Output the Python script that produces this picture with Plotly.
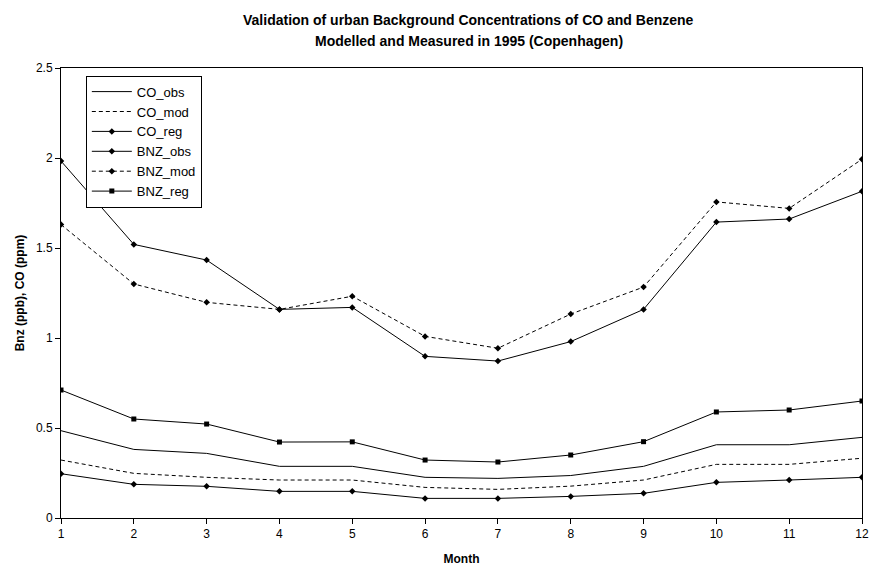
import plotly.graph_objects as go

# monthly values
months = list(range(1, 13))

co_obs = [0.485, 0.381, 0.359, 0.287, 0.287, 0.226, 0.220, 0.236, 0.287, 0.407, 0.407, 0.448]
co_mod = [0.322, 0.248, 0.226, 0.211, 0.211, 0.170, 0.159, 0.177, 0.211, 0.298, 0.298, 0.332]
co_reg = [0.246, 0.187, 0.176, 0.148, 0.148, 0.109, 0.109, 0.120, 0.137, 0.198, 0.211, 0.226]
bnz_obs = [1.983, 1.520, 1.433, 1.159, 1.170, 0.898, 0.872, 0.980, 1.159, 1.644, 1.661, 1.815]
bnz_mod = [1.630, 1.300, 1.198, 1.159, 1.232, 1.009, 0.943, 1.133, 1.283, 1.756, 1.720, 1.993]
bnz_reg = [0.711, 0.550, 0.522, 0.422, 0.423, 0.322, 0.311, 0.350, 0.424, 0.589, 0.600, 0.650]

title_lines = [
    "Validation of urban Background Concentrations of CO and Benzene",
    "Modelled and Measured in 1995 (Copenhagen)",
]

FONT = "Arial, Liberation Sans, sans-serif"
DASH = "4px,3px"

# (name, values, dash, marker symbol or None)
series = [
    ("CO_obs", co_obs, "solid", None),
    ("CO_mod", co_mod, DASH, None),
    ("CO_reg", co_reg, "solid", "diamond"),
    ("BNZ_obs", bnz_obs, "solid", "diamond"),
    ("BNZ_mod", bnz_mod, DASH, "diamond"),
    ("BNZ_reg", bnz_reg, "solid", "square"),
]

fig = go.Figure()
for name, values, dash, symbol in series:
    fig.add_trace(
        go.Scatter(
            x=months,
            y=values,
            name=name,
            mode="lines+markers" if symbol else "lines",
            line=dict(color="black", width=1, dash=dash),
            marker=dict(symbol=symbol or "circle", size=5, color="black"),
        )
    )

# the page body adds an 8px margin, so the figure is a bit smaller than the window
fig.update_layout(
    width=873,
    height=568,
    margin=dict(l=51, r=19, t=60, b=58),
    paper_bgcolor="white",
    plot_bgcolor="white",
    font=dict(family=FONT, size=12, color="black"),
    showlegend=True,
    legend=dict(
        x=0.031,
        y=0.983,
        xanchor="left",
        yanchor="top",
        bgcolor="white",
        bordercolor="black",
        borderwidth=1,
        font=dict(family=FONT, size=13),
        tracegroupgap=0,
        itemwidth=40,
    ),
)

for line, ypos in zip(title_lines, [1.107, 1.06]):
    fig.add_annotation(
        text=f"<b>{line}</b>",
        xref="paper",
        yref="paper",
        x=0.509,
        y=ypos,
        xanchor="center",
        yanchor="middle",
        showarrow=False,
        font=dict(family=FONT, size=14),
    )

fig.update_xaxes(
    range=[1, 12],
    tickmode="linear",
    tick0=1,
    dtick=1,
    showgrid=False,
    zeroline=False,
    showline=True,
    linecolor="black",
    linewidth=1,
    mirror=True,
    ticks="outside",
    ticklen=5,
    tickcolor="black",
    title=dict(text="<b>Month</b>", font=dict(family=FONT, size=12), standoff=14),
)
fig.update_yaxes(
    range=[0, 2.5],
    tickmode="linear",
    tick0=0,
    dtick=0.5,
    showgrid=False,
    zeroline=False,
    showline=True,
    linecolor="black",
    linewidth=1,
    mirror=True,
    ticks="outside",
    ticklen=5,
    tickcolor="black",
    title=dict(text="<b>Bnz (ppb), CO (ppm)</b>", font=dict(family=FONT, size=12), standoff=8),
)

fig.write_html("out.html")
